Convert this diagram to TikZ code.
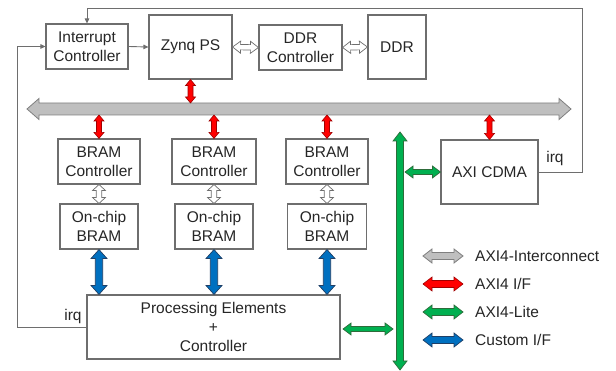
\documentclass[tikz,border=0pt]{standalone}
\usepackage{fontspec}
\setmainfont{Liberation Sans}
\usetikzlibrary{calc,arrows.meta}
\definecolor{bordc}{HTML}{6E6E6E}
\definecolor{txtc}{HTML}{262626}
\definecolor{busfill}{HTML}{BFBFBF}
\definecolor{busline}{HTML}{7F7F7F}
\definecolor{redfill}{HTML}{FF0000}
\definecolor{redline}{HTML}{A00000}
\definecolor{greenfill}{HTML}{00B050}
\definecolor{greenline}{HTML}{2E6B3A}
\definecolor{bluefill}{HTML}{0070C0}
\definecolor{blueline}{HTML}{1F3F66}
\newcommand\fatarrow[6]{%
  \coordinate (fa1) at ($(#1)!#5!(#2)$);
  \coordinate (fa2) at ($(#2)!#5!(#1)$);
  \draw[#6] (#1) -- ($(fa1)!#4!90:(#2)$) -- ($(fa1)!#3!90:(#2)$)
    -- ($(fa2)!#3!-90:(#1)$) -- ($(fa2)!#4!-90:(#1)$) -- (#2)
    -- ($(fa2)!#4!90:(#1)$) -- ($(fa2)!#3!90:(#1)$)
    -- ($(fa1)!#3!-90:(#2)$) -- ($(fa1)!#4!-90:(#2)$) -- cycle;
}
\tikzset{
  blk/.style={draw=bordc, line width=1.1pt, fill=white, inner sep=0pt,
    align=center, text=txtc, font=\fontsize{15.5}{19}\selectfont},
  lbl/.style={text=txtc, font=\fontsize{15.5}{19}\selectfont, inner sep=0pt},
  wire/.style={draw=bordc, line width=0.9pt},
  tip/.style={-{Triangle[length=5pt,width=4.5pt]}},
  busarr/.style={fill=busfill, draw=busline, line width=0.8pt},
  redarr/.style={fill=redfill, draw=redline, line width=0.6pt},
  greenarr/.style={fill=greenfill, draw=greenline, line width=0.7pt},
  bluearr/.style={fill=bluefill, draw=blueline, line width=0.7pt},
  holarr/.style={fill=white, draw=bordc, line width=0.7pt},
}
\begin{document}
\begin{tikzpicture}[x=1pt,y=-1pt]
\useasboundingbox (0,0) rectangle (616,371);
% blocks
\node[blk, minimum width=82pt, minimum height=45pt] (ic) at (87,46.5) {Interrupt\\Controller};
\node[blk, minimum width=83pt, minimum height=64pt] (zynq) at (190.5,47) {Zynq PS};
\node[blk, minimum width=83pt, minimum height=45pt] (ddrc) at (300.5,47.5) {DDR\\Controller};
\node[blk, minimum width=58pt, minimum height=64pt] (ddr) at (397,47) {DDR};
\node[blk, minimum width=82pt, minimum height=45pt] (bc1) at (99,161.5) {BRAM\\Controller};
\node[blk, minimum width=84pt, minimum height=45pt] (bc2) at (214,161.5) {BRAM\\Controller};
\node[blk, minimum width=82pt, minimum height=45pt] (bc3) at (327,161.5) {BRAM\\Controller};
\node[blk, minimum width=78pt, minimum height=45pt] (ob1) at (99,226.5) {On-chip\\BRAM};
\node[blk, minimum width=78pt, minimum height=45pt] (ob2) at (214,226.5) {On-chip\\BRAM};
\node[blk, minimum width=79pt, minimum height=45pt] (ob3) at (327,226.5) {On-chip\\BRAM};
\node[blk, minimum width=97pt, minimum height=64pt] (cdma) at (489.5,172) {AXI CDMA};
\node[blk, minimum width=253pt, minimum height=64pt] (pe) at (213.5,327) {Processing Elements\\+\\Controller};
% interrupt wires
\coordinate (tr1) at (582,172);
\coordinate (tr2) at (582,8);
\coordinate (tr3) at (87,8);
\draw[wire, tip] (cdma.east) -- (tr1) -- (tr2) -- (tr3) -- (ic.north);
\node[lbl] (irq1) at (555,158) {irq};
\coordinate (tl1) at (17,327);
\coordinate (tl2) at (17,46.5);
\draw[wire, tip] (pe.west) -- (tl1) -- (tl2) -- (ic.west);
\node[lbl] (irq2) at (73,316) {irq};
\draw[wire, tip] (ic.east) -- (zynq.west);
% main bus
\coordinate (busL) at (27,109);
\coordinate (busR) at (571,109);
\coordinate (busT) at (0,103);
\coordinate (busB) at (0,115);
\fatarrow{busL}{busR}{6pt}{10.5pt}{12pt}{busarr}
% red AXI4 arrows
\coordinate (r0) at (zynq.south |- busT);
\fatarrow{zynq.south}{r0}{2.5pt}{5pt}{6pt}{redarr}
\coordinate (r1) at (bc1.north |- busB);
\fatarrow{r1}{bc1.north}{2.5pt}{5pt}{6pt}{redarr}
\coordinate (r2) at (bc2.north |- busB);
\fatarrow{r2}{bc2.north}{2.5pt}{5pt}{6pt}{redarr}
\coordinate (r3) at (bc3.north |- busB);
\fatarrow{r3}{bc3.north}{2.5pt}{5pt}{6pt}{redarr}
\coordinate (r4) at (cdma.north |- busB);
\fatarrow{r4}{cdma.north}{2.5pt}{5pt}{6pt}{redarr}
% hollow arrows
\fatarrow{zynq.east}{ddrc.west}{2.7pt}{6pt}{8pt}{holarr}
\fatarrow{ddrc.east}{ddr.west}{2.7pt}{6pt}{8pt}{holarr}
\fatarrow{bc1.south}{ob1.north}{2.7pt}{6.5pt}{6pt}{holarr}
\fatarrow{bc2.south}{ob2.north}{2.7pt}{6.5pt}{6pt}{holarr}
\fatarrow{bc3.south}{ob3.north}{2.7pt}{6.5pt}{6pt}{holarr}
% blue custom arrows
\coordinate (b1) at (ob1.south |- pe.north);
\fatarrow{ob1.south}{b1}{3.7pt}{8pt}{9pt}{bluearr}
\coordinate (b2) at (ob2.south |- pe.north);
\fatarrow{ob2.south}{b2}{3.7pt}{8pt}{9pt}{bluearr}
\coordinate (b3) at (ob3.south |- pe.north);
\fatarrow{ob3.south}{b3}{3.7pt}{8pt}{9pt}{bluearr}
% green AXI4-Lite
\coordinate (gT) at (400,132);
\coordinate (gB) at (400,370);
\fatarrow{gT}{gB}{3.5pt}{7pt}{9pt}{greenarr}
\coordinate (g1a) at (343,329);
\coordinate (g1b) at (393,329);
\fatarrow{g1a}{g1b}{2.5pt}{6pt}{8pt}{greenarr}
\coordinate (g2a) at (405,172);
\fatarrow{g2a}{cdma.west}{2.5pt}{6pt}{8pt}{greenarr}
% legend
\coordinate (la1) at (423,256); \coordinate (lb1) at (463,256);
\fatarrow{la1}{lb1}{3.5pt}{7pt}{9pt}{busarr}
\node[lbl, anchor=west] (lt1) at (475,256) {AXI4-Interconnect};
\coordinate (la2) at (423,284); \coordinate (lb2) at (463,284);
\fatarrow{la2}{lb2}{3.5pt}{7pt}{9pt}{redarr}
\node[lbl, anchor=west] (lt2) at (475,284) {AXI4 I/F};
\coordinate (la3) at (423,312); \coordinate (lb3) at (463,312);
\fatarrow{la3}{lb3}{3.5pt}{7pt}{9pt}{greenarr}
\node[lbl, anchor=west] (lt3) at (475,312) {AXI4-Lite};
\coordinate (la4) at (423,340); \coordinate (lb4) at (463,340);
\fatarrow{la4}{lb4}{3.5pt}{7pt}{9pt}{bluearr}
\node[lbl, anchor=west] (lt4) at (475,340) {Custom I/F};
\end{tikzpicture}
\end{document}
